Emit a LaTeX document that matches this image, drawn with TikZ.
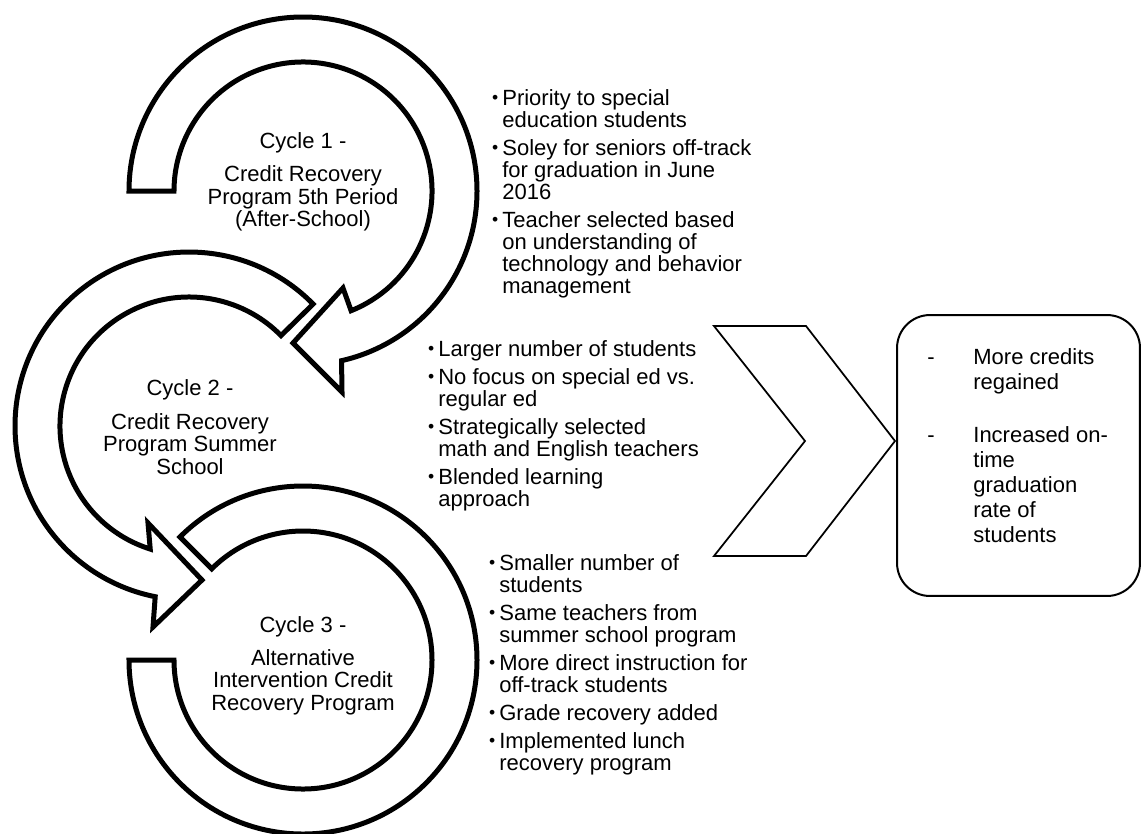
\documentclass[tikz,border=0pt]{standalone}
\usepackage{fontspec}
\setmainfont{Liberation Sans}
% bullet mark hung to the left of the first line of an item
\newcommand\itemdot{\llap{\raisebox{1.1pt}{\fontsize{10}{10}\selectfont •}\hspace{2.3pt}}}
\newcommand\gap{\\[3.41pt]}
\newcommand\dashcol[1]{\makebox[26.2pt][l]{#1}}
\begin{document}
\begin{tikzpicture}[x=0.02cm,y=-0.02cm,
  ring/.style={draw=black,fill=white,line width=0.1cm,line join=miter},
  thinline/.style={draw=black,line width=0.035cm,line join=miter},
  % multi-line nodes are anchored at the baseline of their last line
  bullets/.style={font=\fontsize{12.52}{12.52}\selectfont,inner sep=0pt,align=left,anchor=base west},
  cyclelabel/.style={font=\fontsize{12.52}{12.8}\selectfont,inner sep=0pt,align=center,anchor=base},
  outtext/.style={font=\fontsize{12.52}{14.23}\selectfont,inner sep=0pt,align=left,anchor=base west}]
\useasboundingbox (0,0) rectangle (1141,833);
\fill[white] (0,0) rectangle (1141,833);

\coordinate (c1) at (303,191);
\coordinate (c2) at (189,426);
\coordinate (c3) at (303,660);

% cycle 1: clockwise ring ending in an arrowhead at the bottom
\begin{scope}[shift={(c1)}]
\draw[ring] (180:174) arc[start angle=180,end angle=437.2,radius=174]
  -- (39,201) -- (-10,152) -- (40,97) -- (428.1:129)
  arc[start angle=428.1,end angle=180,radius=129] -- cycle;
\end{scope}

% cycle 2: counter-clockwise ring ending in an arrowhead at the bottom
\begin{scope}[shift={(c2)}]
\draw[ring] (-44.5:174) arc[start angle=-44.5,end angle=-258.8,radius=174]
  -- (-36,201) -- (13,154) -- (-41,97) -- (-252.5:129)
  arc[start angle=-252.5,end angle=-44.5,radius=129] -- cycle;
\end{scope}

% cycle 3: open ring with flat ends
\begin{scope}[shift={(c3)}]
\draw[ring] (225:174) arc[start angle=225,end angle=540,radius=174]
  -- (540:129) arc[start angle=540,end angle=225,radius=129] -- cycle;
\end{scope}

% labels inside the rings
\node[cyclelabel] (lab1) at (303,226.7) {Cycle 1 -\\[6.3pt]Credit Recovery\\Program 5th Period\\(After-School)};
\node[cyclelabel] (lab2) at (190,474) {Cycle 2 -\\[6.3pt]Credit Recovery\\Program Summer\\School};
\node[cyclelabel] (lab3) at (303,710) {Cycle 3 -\\[5.5pt]Alternative\\Intervention Credit\\Recovery Program};

% bullet lists
\node[bullets] (list1) at (502,293) {\itemdot Priority to special\\education students\gap
\itemdot Soley for seniors off-track\\for graduation in June\\2016\gap
\itemdot Teacher selected based\\on understanding of\\technology and behavior\\management};
\node[bullets] (list2) at (438,506.7) {\itemdot Larger number of students\gap
\itemdot No focus on special ed vs.\\regular ed\gap
\itemdot Strategically selected\\math and English teachers\gap
\itemdot Blended learning\\approach};
\node[bullets] (list3) at (499,770) {\itemdot Smaller number of\\students\gap
\itemdot Same teachers from\\summer school program\gap
\itemdot More direct instruction for\\off-track students\gap
\itemdot Grade recovery added\gap
\itemdot Implemented lunch\\recovery program};

% chevron
\draw[thinline] (714,326) -- (806,326) -- (895,441) -- (806,556) -- (714,556) -- (805,441) -- cycle;

% outcomes box
\node[draw=black,line width=0.04cm,rounded corners=0.66cm,minimum width=4.86cm,minimum height=5.62cm,inner sep=0pt] (outcome) at (1018.5,455.5) {};
\node[outtext] (outlist) at (927,542.7) {\dashcol{-}More credits\\\dashcol{}regained\\[16.2pt]
\dashcol{-}Increased on-\\\dashcol{}time\\\dashcol{}graduation\\\dashcol{}rate of\\\dashcol{}students};
\end{tikzpicture}
\end{document}
